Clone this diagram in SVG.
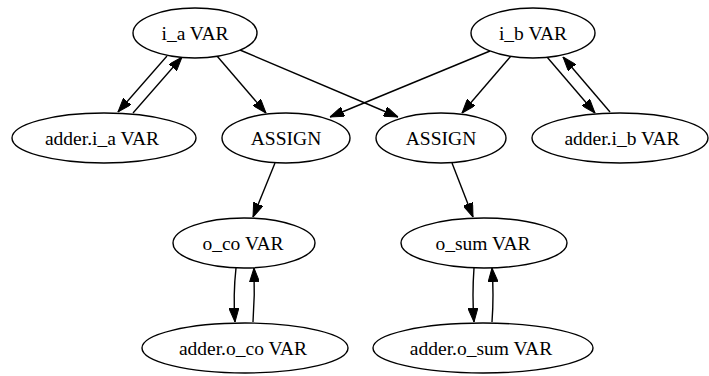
<svg xmlns="http://www.w3.org/2000/svg" width="709" height="376" viewBox="0 0 709 376">
<style>
.n ellipse{fill:#fff;stroke:#000;stroke-width:1.4}
.n text{font-family:"Liberation Serif","Times New Roman",serif;font-size:19.5px;text-anchor:middle;fill:#000}
.e path{fill:none;stroke:#000;stroke-width:1.4;marker-end:url(#ah)}
</style>
<defs>
<marker id="ah" markerUnits="userSpaceOnUse" markerWidth="14" markerHeight="10" refX="14" refY="5" orient="auto">
<path d="M0,0 L14,5 L0,10 z" fill="#000" stroke="#000" stroke-width="1"/>
</marker>
</defs>
<rect width="709" height="376" fill="#fff"/>
<g class="e" id="edges">
<path d="M167,56 L118,112"/>
<path d="M133,113 L182,57"/>
<path d="M217,56 L266,113"/>
<path d="M240,50 L398,117"/>
<path d="M490,51 L330,117"/>
<path d="M511,56 L462,113"/>
<path d="M547,57 L595,113"/>
<path d="M610,112 L563,57"/>
<path d="M275,163 L253,217"/>
<path d="M452,163 L473,217"/>
<path d="M236,268 Q233,295 235,322"/>
<path d="M253,322 Q255,295 254,268"/>
<path d="M474,268 Q472,295 474,322"/>
<path d="M492,322 Q494,295 492,268"/>
</g>
<g class="n" id="i_a"><ellipse cx="195" cy="33" rx="62" ry="25"/><text x="195" y="39.5">i_a VAR</text></g>
<g class="n" id="i_b"><ellipse cx="533" cy="33" rx="62" ry="25"/><text x="533" y="39.5">i_b VAR</text></g>
<g class="n" id="adder_i_a"><ellipse cx="104" cy="138" rx="92" ry="25"/><text x="102" y="144.5">adder.i_a VAR</text></g>
<g class="n" id="assign1"><ellipse cx="286" cy="138" rx="64" ry="25"/><text x="286" y="144.5">ASSIGN</text></g>
<g class="n" id="assign2"><ellipse cx="441" cy="138" rx="65" ry="25"/><text x="441" y="144.5">ASSIGN</text></g>
<g class="n" id="adder_i_b"><ellipse cx="620" cy="138" rx="88" ry="25"/><text x="622" y="144.5">adder.i_b VAR</text></g>
<g class="n" id="o_co"><ellipse cx="244" cy="243" rx="71" ry="25"/><text x="243" y="249.5">o_co VAR</text></g>
<g class="n" id="o_sum"><ellipse cx="484" cy="243" rx="83" ry="25"/><text x="483" y="249.5">o_sum VAR</text></g>
<g class="n" id="adder_o_co"><ellipse cx="245" cy="348" rx="103" ry="25"/><text x="243" y="354.5">adder.o_co VAR</text></g>
<g class="n" id="adder_o_sum"><ellipse cx="483" cy="348" rx="110" ry="25"/><text x="481" y="354.5">adder.o_sum VAR</text></g>
</svg>
